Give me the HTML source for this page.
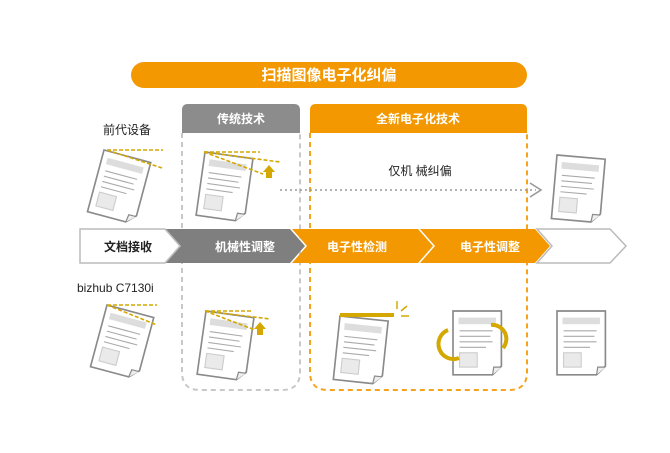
<!DOCTYPE html>
<html><head><meta charset="utf-8"><style>
html,body{margin:0;padding:0;background:#fff;}
svg{display:block;font-family:"Liberation Sans","Noto Sans CJK SC",sans-serif;}
</style></head><body>
<svg width="670" height="453" viewBox="0 0 670 453" xmlns="http://www.w3.org/2000/svg">
<defs>
<g id="doc0">
<path d="M0,0 H44 V50 L36,58 H0 Z" fill="#fff" stroke="#8a8a8a" stroke-width="1.5"/>
<path d="M36,58 L37,51 H44" fill="#eee" stroke="#8a8a8a" stroke-width="1.1"/>
<rect x="5" y="6" width="34" height="6" fill="#ddd"/>
<g stroke="#aaa" stroke-width="1"><line x1="6" y1="18" x2="36" y2="18"/><line x1="6" y1="23" x2="34" y2="23"/><line x1="6" y1="28" x2="36" y2="28"/><line x1="6" y1="33" x2="30" y2="33"/></g>
<rect x="6" y="38" width="16" height="13" fill="#eaeaea" stroke="#ccc"/>
</g>
<g id="doc"><use href="#doc0" transform="scale(1.1)"/></g>
</defs>
<rect x="131" y="62" width="396" height="26" rx="13" fill="#f39800"/>
<text x="329" y="80" font-size="15" fill="#fff" text-anchor="middle" font-weight="bold">扫描图像电子化纠偏</text>
<path d="M182,133 V372 Q182,390 200,390 H282 Q300,390 300,372 V133" fill="none" stroke="#c8c8c8" stroke-width="2" stroke-dasharray="5,4"/>
<path d="M182,133 V110 Q182,104 188,104 H294 Q300,104 300,110 V133 Z" fill="#8c8c8c"/>
<text x="241" y="123" font-size="12" fill="#fff" text-anchor="middle" font-weight="bold">传统技术</text>
<path d="M310,133 V372 Q310,390 328,390 H509 Q527,390 527,372 V133" fill="none" stroke="#f5a21c" stroke-width="2" stroke-dasharray="5,4"/>
<path d="M310,133 V110 Q310,104 316,104 H521 Q527,104 527,110 V133 Z" fill="#f39800"/>
<text x="418" y="123" font-size="12" fill="#fff" text-anchor="middle" font-weight="bold">全新电子化技术</text>
<text x="127" y="134" font-size="12" fill="#222" text-anchor="middle">前代设备</text>
<text x="420" y="175" font-size="12" fill="#222" text-anchor="middle">仅机 械纠偏</text>
<text x="77" y="292" font-size="12" fill="#222">bizhub C7130i</text>
<line x1="280" y1="190" x2="536" y2="190" stroke="#999" stroke-width="1.5" stroke-dasharray="2,3"/>
<path d="M530,183 L541,190 L530,197" fill="none" stroke="#999" stroke-width="1.6"/>
<path d="M80,229 H165 L180,246 L165,263 H80 Z" fill="#fff" stroke="#bbb" stroke-width="1.5"/>
<path d="M166,229 H290 L305,246 L290,263 H166 L181,246 Z" fill="#7f7f7f"/>
<path d="M292,229 H418 L433,246 L418,263 H292 L307,246 Z" fill="#f39800"/>
<path d="M420,229 H535 L550,246 L535,263 H420 L435,246 Z" fill="#f39800"/>
<path d="M537,229 H610 L626,246 L610,263 H537 L552,246 Z" fill="#fff" stroke="#bbb" stroke-width="1.5"/>
<text x="128" y="251" font-size="12" fill="#222" text-anchor="middle" font-weight="bold">文档接收</text>
<text x="245" y="251" font-size="12" fill="#fff" text-anchor="middle" font-weight="bold">机械性调整</text>
<text x="357" y="251" font-size="12" fill="#fff" text-anchor="middle" font-weight="bold">电子性检测</text>
<text x="490" y="251" font-size="12" fill="#fff" text-anchor="middle" font-weight="bold">电子性调整</text>
<use href="#doc" transform="translate(104,150) rotate(15)"/>
<g stroke="#d4a800" stroke-width="1.6" stroke-dasharray="4,2"><line x1="107" y1="150" x2="163" y2="150"/><line x1="107" y1="150" x2="162" y2="168"/></g>
<use href="#doc" transform="translate(205,152) rotate(8)"/>
<g stroke="#d4a800" stroke-width="1.6" stroke-dasharray="4,2"><line x1="204" y1="152" x2="260" y2="152"/><line x1="204" y1="152" x2="280" y2="162"/><line x1="204" y1="152" x2="263" y2="174"/></g>
<path d="M266,178 V172 H263 L269,165 L275,172 H272 V178 Z" fill="#d4a800"/>
<use href="#doc" transform="translate(557,155) rotate(5)"/>
<use href="#doc" transform="translate(107,305) rotate(15)"/>
<g stroke="#d4a800" stroke-width="1.6" stroke-dasharray="4,2"><line x1="107" y1="305" x2="157" y2="305"/><line x1="107" y1="305" x2="157" y2="325"/></g>
<use href="#doc" transform="translate(206,311) rotate(8)"/>
<g stroke="#d4a800" stroke-width="1.6" stroke-dasharray="4,2"><line x1="205" y1="311" x2="252" y2="311"/><line x1="205" y1="311" x2="270" y2="319"/><line x1="205" y1="311" x2="255" y2="330"/></g>
<path d="M257,335 V329 H254 L260,322 L266,329 H263 V335 Z" fill="#d4a800"/>
<use href="#doc" transform="translate(340,316) rotate(6)"/>
<line x1="340" y1="315" x2="394" y2="315" stroke="#d4a800" stroke-width="4"/>
<g stroke="#d4a800" stroke-width="1.5"><line x1="397" y1="301" x2="397" y2="309"/><line x1="401" y1="311" x2="407" y2="306"/><line x1="401" y1="316" x2="409" y2="316"/></g>
<use href="#doc" transform="translate(453,311)"/>
<path d="M448,330 A14,14 0 0 0 459,358" fill="none" stroke="#d4a800" stroke-width="4"/>
<path d="M491,325 A14,14 0 0 1 503,348" fill="none" stroke="#d4a800" stroke-width="4"/>
<use href="#doc" transform="translate(557,311)"/>
</svg>
</body></html>
